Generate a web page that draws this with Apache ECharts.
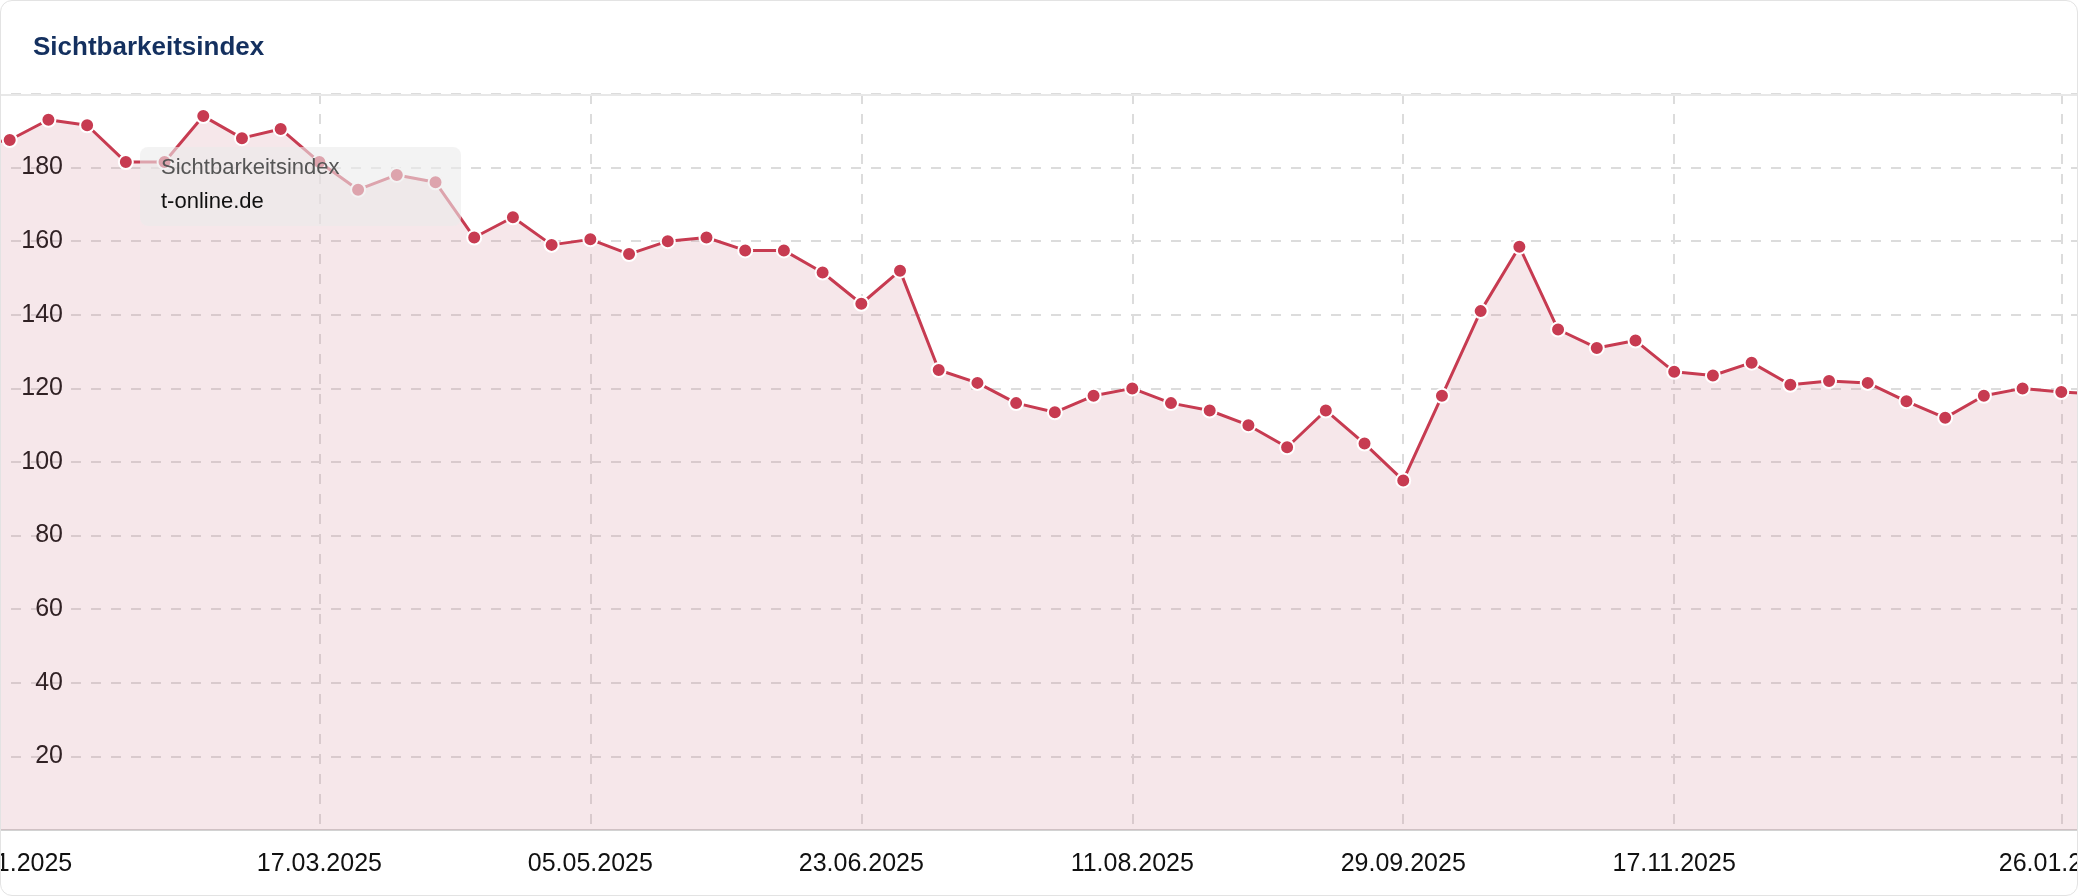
<!DOCTYPE html>
<html lang="de">
<head>
<meta charset="UTF-8">
<title>Sichtbarkeitsindex</title>
<script src="https://cdn.jsdelivr.net/npm/echarts@6/dist/echarts.min.js"></script>
<style>
    html, body { margin: 0; padding: 0; background: #fff; }
    #card { position: absolute; left: 0; top: 0; width: 2076px; height: 894px; border: 1px solid #e3e3e3; border-radius: 12px; overflow: hidden; font-family: "Liberation Sans", Arial, sans-serif; }
    #title { position: absolute; left: 32px; top: 30px; font-size: 26px; font-weight: bold; color: #14305f; }
    #sep { position: absolute; left: 0; right: 0; top: 93px; height: 2px; background: #e8e8e8; }
    #chart { position: absolute; left: 0; top: 0; width: 2078px; height: 896px; }
</style>
</head>
<body>
<div id="card">
    <div id="chart"></div>
    <div id="title">Sichtbarkeitsindex</div>
    <div id="sep"></div>
</div>
<script>
    // Wochenwerte, erster und letzter Punkt liegen ausserhalb des sichtbaren Bereichs
    var startDate = new Date(Date.UTC(2025, 0, 13));
    var weeks = 56;
    var dates = [];
    for (var i = 0; i < weeks; i++) {
        var d = new Date(startDate.getTime() + i * 7 * 86400000);
        var dd = ('0' + d.getUTCDate()).slice(-2), mm = ('0' + (d.getUTCMonth() + 1)).slice(-2);
        dates.push(dd + '.' + mm + '.' + d.getUTCFullYear());
    }
    var values = [186, 187.5, 193, 191.5, 181.5, 181.5, 194, 188, 190.5, 181.5, 174, 178, 176,
        161, 166.5, 159, 160.5, 156.5, 160, 161, 157.5, 157.5, 151.5, 143, 152,
        125, 121.5, 116, 113.5, 118, 120, 116, 114, 110, 104, 114, 105, 95,
        118, 141, 158.5, 136, 131, 133, 124.5, 123.5, 127, 121, 122, 121.5,
        116.5, 112, 118, 120, 119, 118.5];
    var yTicks = [20, 40, 60, 80, 100, 120, 140, 160, 180];
    var labelIdx = [1, 9, 16, 23, 30, 37, 44, 54];

    function showIdx(idx) { return labelIdx.indexOf(idx) >= 0; }

    var chart = echarts.init(document.getElementById('chart'));
    chart.setOption({
        animation: false,
        textStyle: { fontFamily: 'Liberation Sans, Arial, sans-serif' },
        grid: { left: -30, right: -21, top: 93, bottom: 67, containLabel: false, outerBoundsMode: 'none' },
        xAxis: {
            type: 'category',
            data: dates,
            boundaryGap: false,
            axisLine: { lineStyle: { color: '#d2d2d2', width: 2 } },
            axisTick: { show: false },
            axisLabel: { interval: function (i) { return showIdx(i); }, color: '#111', fontSize: 25, margin: 22, hideOverlap: false },
            splitLine: { show: true, interval: function (i) { return showIdx(i) && i > 1; }, lineStyle: { type: [10, 10], color: '#dcdcdc', width: 2 } }
        },
        yAxis: {
            type: 'value',
            min: 0, max: 200, interval: 20,
            axisLine: { show: false },
            axisTick: { show: false },
            axisLabel: {
                inside: true, margin: 92, align: 'right', color: '#111', fontSize: 25,
                formatter: function (v) { return yTicks.indexOf(v) >= 0 ? v : ''; }
            },
            splitLine: { lineStyle: { type: [10, 10], color: '#dcdcdc', width: 2 } }
        },
        series: [{
            type: 'line',
            data: values,
            symbol: 'circle',
            symbolSize: 14,
            lineStyle: { color: '#c73b51', width: 3 },
            itemStyle: { color: '#c73b51', borderColor: '#fff', borderWidth: 2 },
            areaStyle: { color: 'rgba(200, 110, 128, 0.24)' },
            z: 2
        }],
        graphic: [
            { type: 'rect', left: 139, top: 146, shape: { width: 321, height: 79, r: 8 }, style: { fill: 'rgba(235,235,235,0.6)' }, z: 10 },
            { type: 'text', left: 160, top: 156, style: { text: 'Sichtbarkeitsindex', fontSize: 22, fill: '#555', fontFamily: 'Liberation Sans, Arial' }, z: 11 },
            { type: 'text', left: 160, top: 190, style: { text: 't-online.de', fontSize: 22, fill: '#111', fontFamily: 'Liberation Sans, Arial' }, z: 11 }
        ]
    });
</script>
</body>
</html>
